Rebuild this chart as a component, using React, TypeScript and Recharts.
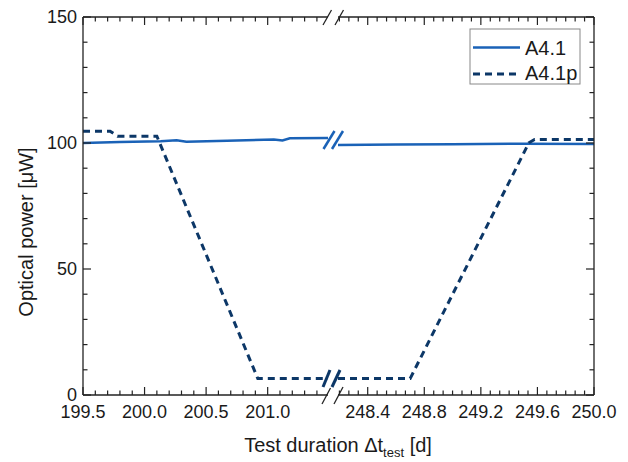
import { LineChart, Line, XAxis, YAxis } from 'recharts'

// A4.1 (solid) and A4.1p (dashed), split around the axis break
const leftSolid = [
  { d: 199.5, v: 100.0 },
  { d: 199.8, v: 100.4 },
  { d: 200.13, v: 100.7 },
  { d: 200.26, v: 101.1 },
  { d: 200.34, v: 100.5 },
  { d: 200.67, v: 100.9 },
  { d: 201.05, v: 101.4 },
  { d: 201.12, v: 101.0 },
  { d: 201.18, v: 101.9 },
  { d: 201.49, v: 102.0 },
]
const leftDashed = [
  { d: 199.5, v: 104.7 },
  { d: 199.72, v: 104.7 },
  { d: 199.78, v: 102.7 },
  { d: 200.1, v: 102.7 },
  { d: 200.92, v: 6.5 },
  { d: 201.49, v: 6.5 },
]
const rightSolid = [
  { d: 248.19, v: 99.2 },
  { d: 248.6, v: 99.4 },
  { d: 249.0, v: 99.5 },
  { d: 249.5, v: 99.7 },
  { d: 250.0, v: 99.6 },
]
const rightDashed = [
  { d: 248.19, v: 6.5 },
  { d: 248.7, v: 6.5 },
  { d: 249.54, v: 100.1 },
  { d: 249.58, v: 101.4 },
  { d: 250.0, v: 101.4 },
]

const leftDomain = [199.5, 201.49]
const rightDomain = [248.19, 250.0]
const leftMajor = [199.5, 200.0, 200.5, 201.0]
const rightMajor = [248.4, 248.8, 249.2, 249.6, 250.0]
const yMajor = [0, 50, 100, 150]

// minor ticks: 0.1 d on the left part, 0.4/6 d on the right part, 10 µW on y
const leftTicks = Array.from({ length: 20 }, (_, i) => +(199.5 + i * 0.1).toFixed(3))
const rightTicks = Array.from({ length: 28 }, (_, i) => +(248.2 + (i * 0.4) / 6).toFixed(4))
const yTicks = Array.from({ length: 16 }, (_, i) => i * 10)

const SOLID = '#1a62b7'
const DASHED = '#0c3767'
const AXIS = '#222'
const TEXT = '#1a1a1a'
const FONT = '"Liberation Sans", Arial, sans-serif'

const isMajor = (v: number, majors: number[]) => majors.some((m) => Math.abs(m - v) < 1e-6)

const tickFor = (side: 'bottom' | 'top' | 'left' | 'right', majors: number[], labels: boolean) =>
  (p: any) => {
    const { x, y, payload } = p
    const major = isMajor(payload.value, majors)
    const len = major ? 8 : 4.5
    let line
    if (side === 'bottom') line = <line x1={x} x2={x} y1={y} y2={y - len} />
    else if (side === 'top') line = <line x1={x} x2={x} y1={y} y2={y + len} />
    else if (side === 'left') line = <line x1={x} x2={x + len} y1={y} y2={y} />
    else line = <line x1={x} x2={x - len} y1={y} y2={y} />
    return (
      <g stroke={AXIS} strokeWidth={1.2}>
        {line}
        {labels && major && side === 'bottom' && (
          <text x={x} y={y + 22.5} textAnchor="middle" fontSize={18} fill={TEXT} stroke="none" fontFamily={FONT}>
            {payload.value.toFixed(1)}
          </text>
        )}
        {labels && major && side === 'left' && (
          <text x={x - 6} y={y + 6} textAnchor="end" fontSize={18} fill={TEXT} stroke="none" fontFamily={FONT}>
            {payload.value}
          </text>
        )}
      </g>
    )
  }

const axisLine = { stroke: AXIS, strokeWidth: 1.3 }

export default function App() {
  return (
    <div style={{ position: 'absolute', left: 0, top: 0, width: 628, height: 462, background: '#fff', fontFamily: FONT }}>
      <div style={{ position: 'absolute', left: 0, top: 0 }}>
        <LineChart width={340} height={462} margin={{ top: 7, right: 12, bottom: 37, left: 43 }}>
          <XAxis xAxisId="b" type="number" dataKey="d" domain={leftDomain} allowDataOverflow ticks={leftTicks} interval={0}
            height={30} tickSize={0} tickMargin={0} axisLine={axisLine} tickLine={false} tick={tickFor('bottom', leftMajor, true)} />
          <XAxis xAxisId="t" orientation="top" type="number" dataKey="d" domain={leftDomain} allowDataOverflow ticks={leftTicks} interval={0}
            height={10} tickSize={0} tickMargin={0} axisLine={axisLine} tickLine={false} tick={tickFor('top', leftMajor, false)} />
          <YAxis type="number" domain={[0, 150]} ticks={yTicks} interval={0} width={40} allowDataOverflow
            tickSize={0} tickMargin={0} axisLine={axisLine} tickLine={false} tick={tickFor('left', yMajor, true)} />
          <Line xAxisId="b" data={leftSolid} dataKey="v" type="linear" stroke={SOLID} strokeWidth={2.5} dot={false} isAnimationActive={false} />
          <Line xAxisId="b" data={leftDashed} dataKey="v" type="linear" stroke={DASHED} strokeWidth={3} strokeDasharray="7 5" dot={false} isAnimationActive={false} />
        </LineChart>
      </div>
      <div style={{ position: 'absolute', left: 330, top: 0 }}>
        <LineChart width={298} height={462} margin={{ top: 7, right: 14, bottom: 37, left: 8 }}>
          <XAxis xAxisId="b" type="number" dataKey="d" domain={rightDomain} allowDataOverflow ticks={rightTicks} interval={0}
            height={30} tickSize={0} tickMargin={0} axisLine={axisLine} tickLine={false} tick={tickFor('bottom', rightMajor, true)} />
          <XAxis xAxisId="t" orientation="top" type="number" dataKey="d" domain={rightDomain} allowDataOverflow ticks={rightTicks} interval={0}
            height={10} tickSize={0} tickMargin={0} axisLine={axisLine} tickLine={false} tick={tickFor('top', rightMajor, false)} />
          <YAxis orientation="right" type="number" domain={[0, 150]} ticks={yTicks} interval={0} width={20} allowDataOverflow
            tickSize={0} tickMargin={0} axisLine={axisLine} tickLine={false} tick={tickFor('right', yMajor, false)} />
          <Line xAxisId="b" data={rightSolid} dataKey="v" type="linear" stroke={SOLID} strokeWidth={2.5} dot={false} isAnimationActive={false} />
          <Line xAxisId="b" data={rightDashed} dataKey="v" type="linear" stroke={DASHED} strokeWidth={3} strokeDasharray="7 5" dot={false} isAnimationActive={false} />
        </LineChart>
      </div>
      <svg width={628} height={462} style={{ position: 'absolute', left: 0, top: 0, pointerEvents: 'none' }} fontFamily={FONT}>
        {/* axis break marks */}
        <g stroke={AXIS} strokeWidth={1.3}>
          <line x1={323} y1={25} x2={331.5} y2={10} />
          <line x1={335} y1={25} x2={343.5} y2={10} />
          <line x1={322} y1={404} x2={330.5} y2={388} />
          <line x1={334} y1={404} x2={343} y2={387} />
        </g>
        <g stroke={SOLID} strokeWidth={2.5}>
          <line x1={323.5} y1={149} x2={334.5} y2={131} />
          <line x1={332} y1={149} x2={343} y2={131} />
        </g>
        <g stroke={DASHED} strokeWidth={3}>
          <line x1={323} y1={387} x2={330} y2={370} />
          <line x1={332} y1={387} x2={340} y2={370} />
        </g>
        {/* legend */}
        <rect x={470} y={29} width={110} height={55} fill="#fff" stroke="#888" strokeWidth={1} />
        <line x1={473} x2={520} y1={47.5} y2={47.5} stroke={SOLID} strokeWidth={2.5} />
        <line x1={473} x2={520} y1={74} y2={74} stroke={DASHED} strokeWidth={3} strokeDasharray="7 5" />
        <text x={525} y={55} fontSize={20} fill={TEXT}>A4.1</text>
        <text x={525} y={80} fontSize={20} fill={TEXT}>A4.1p</text>
        {/* axis titles */}
        <text x={338} y={452} textAnchor="middle" fontSize={20} fill={TEXT}>
          Test duration Δt<tspan fontSize={13} dy={5}>test</tspan><tspan dy={-5}> [d]</tspan>
        </text>
        <text transform="translate(33 232) rotate(-90)" textAnchor="middle" fontSize={20} fill={TEXT}>
          Optical power [μW]
        </text>
      </svg>
    </div>
  )
}
